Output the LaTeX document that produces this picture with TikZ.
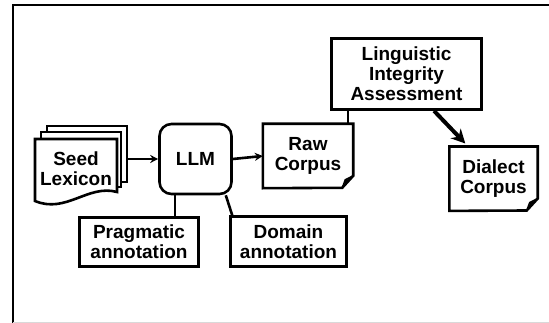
\documentclass[tikz,border=0pt]{standalone}
\usepackage{fontspec}
\setmainfont{Liberation Sans}
\usetikzlibrary{arrows.meta,positioning,calc}

\begin{document}
\begin{tikzpicture}[x=1pt,y=-1pt,>=Stealth,
  txt/.style={align=center,inner sep=0pt,font=\bfseries\fontsize{19}{20}\selectfont},
  box/.style={txt,draw,line width=2.6pt},
  ln/.style={line width=2.6pt},
  page/.style={ln,fill=white,line join=miter}]
\useasboundingbox (0,0) rectangle (549,323);
\draw[line width=1.6pt] (549,5) -- (13,5) -- (13,323);
\draw[black!15,line width=1pt] (13,322) -- (549,322);
% seed lexicon pages
\draw[page] (47,126) rectangle (127,182);
\draw[page] (41,132) rectangle (121,187);
\draw[page] (35,139) -- (117,139) -- (117,192) .. controls (88,184) and (66,214) .. (35,201) -- cycle;
\node[txt] (seed) at (76,169) {Seed\\Lexicon};\coordinate (seedout) at (127,159);
% boxes
\node[box,rounded corners=12pt,minimum width=72pt,minimum height=70pt] (llm) at (195.5,159) {LLM};
\node[box,minimum width=119pt,minimum height=49pt] (prag) at (139,242) {Pragmatic\\annotation};
\node[box,minimum width=116pt,minimum height=50pt] (dom) at (288.5,241.5) {Domain\\annotation};
\node[box,minimum width=150pt,minimum height=71pt] (lia) at (406.5,74) {Linguistic\\Integrity\\Assessment};
% corpus documents
\node[txt,minimum width=90pt,minimum height=64pt] (raw) at (308,156) {Raw\\Corpus};
\draw[ln] (raw.north west) -- (raw.north east) -- ++(0,52) coordinate (rc) -- ++(-11,12) coordinate (rd) -- (raw.south west) -- cycle;
\draw[line width=1.4pt] (rc) -- ++(-8,4) coordinate (rt) -- (rd);\fill (rt) -- ++(4,-1) -- ++(-5,7) -- cycle;
\node[txt,minimum width=88pt,minimum height=64pt] (dia) at (493.5,178.7) {Dialect\\Corpus};
\draw[ln] (dia.north west) -- (dia.north east) -- ++(0,52) coordinate (dc) -- ++(-11,12) coordinate (dd) -- (dia.south west) -- cycle;
\draw[line width=1.4pt] (dc) -- ++(-8,4) coordinate (dt) -- (dd);\fill (dt) -- ++(4,-1) -- ++(-5,7) -- cycle;
% connectors
\draw[ln,-{Stealth[length=8pt,width=8pt]}] (seedout) -- (llm.west);
\draw[ln,-{Stealth[length=8pt,width=8pt]}] (llm.east) -- (raw.west);
\draw[ln] (llm.south -| 175,0) -- (prag.north -| 175,0);
\draw[ln] ([xshift=-7pt]llm.south east) -- ([xshift=3pt]dom.north west);
\draw[ln] (lia.south -| 348,0) -- (raw.north -| 348,0);
\draw[line width=4pt,-{Stealth[length=14pt,width=14pt]}] (lia.south -| 434,0) -- ([xshift=16pt,yshift=3pt]dia.north west);
\end{tikzpicture}
\end{document}
